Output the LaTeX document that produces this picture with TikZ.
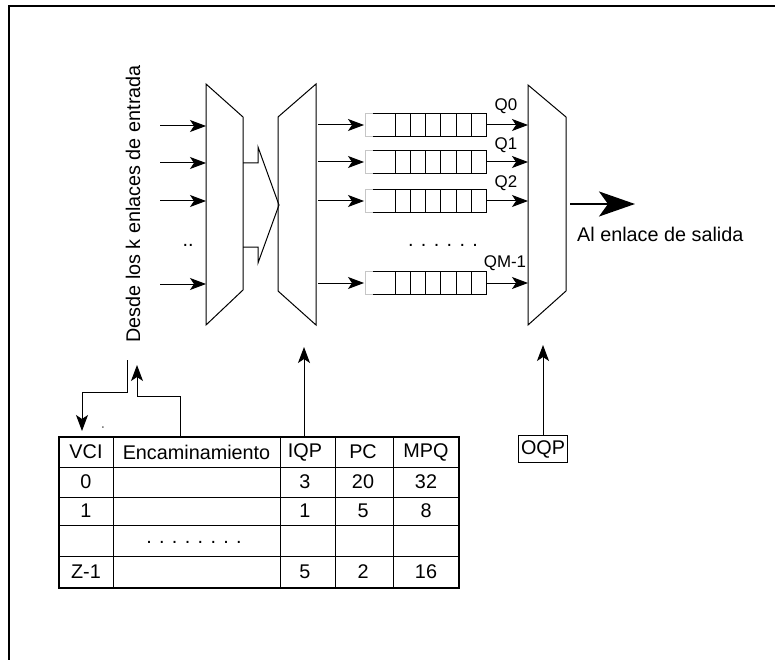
\documentclass[tikz,border=0pt]{standalone}
\usepackage{fontspec}
\setmainfont{Liberation Sans}
\usetikzlibrary{arrows.meta}
\begin{document}
\begin{tikzpicture}[x=1pt,y=-1pt,
  ln/.style={line width=1pt},
  arr/.style={line width=1pt,-{Stealth[length=16pt,width=12pt,inset=4pt]}},
  bigarr/.style={line width=2pt,-{Stealth[length=36pt,width=25pt,inset=9pt]}},
  txt/.style={font=\fontsize{19.8}{23}\selectfont, inner sep=0pt},
  qtxt/.style={font=\fontsize{16.9}{19}\selectfont, inner sep=0pt},
  cell/.style={txt},
]
\useasboundingbox (0,0) rectangle (775,660);
% frame
\draw[line width=1.6pt] (775,6) -- (9,6) -- (9,660);

% trapezoids
\coordinate (a1) at (206,84);  \coordinate (a2) at (243,117);
\coordinate (a3) at (243,290); \coordinate (a4) at (206,325);
\draw[ln] (a1) -- (a2) -- (a3) -- (a4) -- cycle;
\coordinate (b1) at (278,117); \coordinate (b2) at (316,84);
\coordinate (b3) at (316,325); \coordinate (b4) at (278,291);
\draw[ln] (b1) -- (b2) -- (b3) -- (b4) -- cycle;
\coordinate (c1) at (528,85);  \coordinate (c2) at (566,117);
\coordinate (c3) at (566,291); \coordinate (c4) at (528,325);
\draw[ln] (c1) -- (c2) -- (c3) -- (c4) -- cycle;

% hollow connector between first two
\coordinate (h1) at (243,163); \coordinate (h2) at (258,163);
\coordinate (h3) at (258,147); \coordinate (h4) at (279,205);
\coordinate (h5) at (258,263); \coordinate (h6) at (258,247);
\coordinate (h7) at (243,247);
\draw[ln] (h1) -- (h2) -- (h3) -- (h4) -- (h5) -- (h6) -- (h7);

% input arrows
\foreach \y [count=\i] in {126,163,201,284} {
  \coordinate (in\i) at (160,\y);
  \coordinate (ina\i) at (206,\y);
  \draw[arr] (in\i) -- (ina\i);
}
\node[txt, anchor=base] (ldots) at (188,246) {..};

% vertical label
\node[txt, rotate=90, anchor=base] (desde) at (140,204) {Desde los k enlaces de entrada};

% queues
\foreach \y [count=\i] in {125,162,201,283} {
  \pgfmathsetmacro{\t}{\y-11.5}
  \pgfmathsetmacro{\b}{\y+11.5}
  \draw[gray!45, line width=1pt] (373,\t) -- (365,\t) -- (365,\b) -- (373,\b);
  \draw[ln] (373,\t) -- (486,\t) -- (486,\b) -- (373,\b);
  \foreach \xx in {395,410,425,440,456,471} { \draw[ln] (\xx,\t) -- (\xx,\b); }
  \coordinate (qs\i) at (318,\y);
  \coordinate (qi\i) at (364,\y);
  \coordinate (qo\i) at (486,\y);
  \coordinate (qe\i) at (528,\y);
  \draw[arr] (qs\i) -- (qi\i);
  \draw[arr] (qo\i) -- (qe\i);
}
\node[qtxt] (q0) at (506,106) {Q0};
\node[qtxt] (q1) at (506,145) {Q1};
\node[qtxt] (q2) at (506,183) {Q2};
\node[qtxt] (qm) at (505,263) {QM-1};
\node[txt, anchor=base] (qdots) at (443,246) {. . . . . .};

% output
\coordinate (o1) at (570,204); \coordinate (o2) at (635,204);
\draw[bigarr] (o1) -- (o2);
\node[txt, anchor=base west] (sal) at (577,241) {Al enlace de salida};

% table
\draw[line width=0.9pt] (113,437) -- (113,588);
\draw[line width=0.9pt] (280,437) -- (280,588);
\draw[line width=0.9pt] (335,437) -- (335,588);
\draw[line width=0.9pt] (393,437) -- (393,588);
\foreach \yy in {467,497,525,556} { \draw[line width=0.9pt] (59,\yy) -- (459,\yy); }
\draw[line width=2.4pt] (59,437) rectangle (459,588);

\node[cell] (hvci) at (86,452) {VCI};
\node[cell] (henc) at (196.5,452) {Encaminamiento};
\node[cell] (hiqp) at (305,452) {IQP};
\node[cell] (hpc)  at (363,452) {PC};
\node[cell] (hmpq) at (426,452) {MPQ};

\node[cell] at (86,482) {0};
\node[cell] at (305,482) {3};
\node[cell] at (363,482) {20};
\node[cell] at (426,482) {32};

\node[cell] at (86,511) {1};
\node[cell] at (305,511) {1};
\node[cell] at (363,511) {5};
\node[cell] at (426,511) {8};

\node[txt, anchor=base] (tdots) at (194,543) {. . . . . . . .};

\node[cell] at (86,572) {Z-1};
\node[cell] at (305,572) {5};
\node[cell] at (363,572) {2};
\node[cell] at (426,572) {16};

% connectors from table
\coordinate (e0) at (180,437); \coordinate (e1) at (180,396);
\coordinate (e2) at (137,396); \coordinate (e3) at (137,365);
\draw[arr] (e0) -- (e1) -- (e2) -- (e3);

\coordinate (d0) at (127,360); \coordinate (d1) at (127,392);
\coordinate (d2) at (82,392); \coordinate (d3) at (82,431);
\draw[arr] (d0) -- (d1) -- (d2) -- (d3);
\node[qtxt, anchor=base, text=gray] (tiny) at (103,428) {.};

\coordinate (iq0) at (304,437); \coordinate (iq1) at (304,347);
\draw[arr] (iq0) -- (iq1);

\node[txt, draw, line width=1.3pt, inner xsep=2.5pt, inner ysep=5pt] (oqp) at (543,449) {OQP};
\coordinate (oq1) at (543,345);
\draw[arr] (oqp.north) -- (oq1);
\end{tikzpicture}
\end{document}
